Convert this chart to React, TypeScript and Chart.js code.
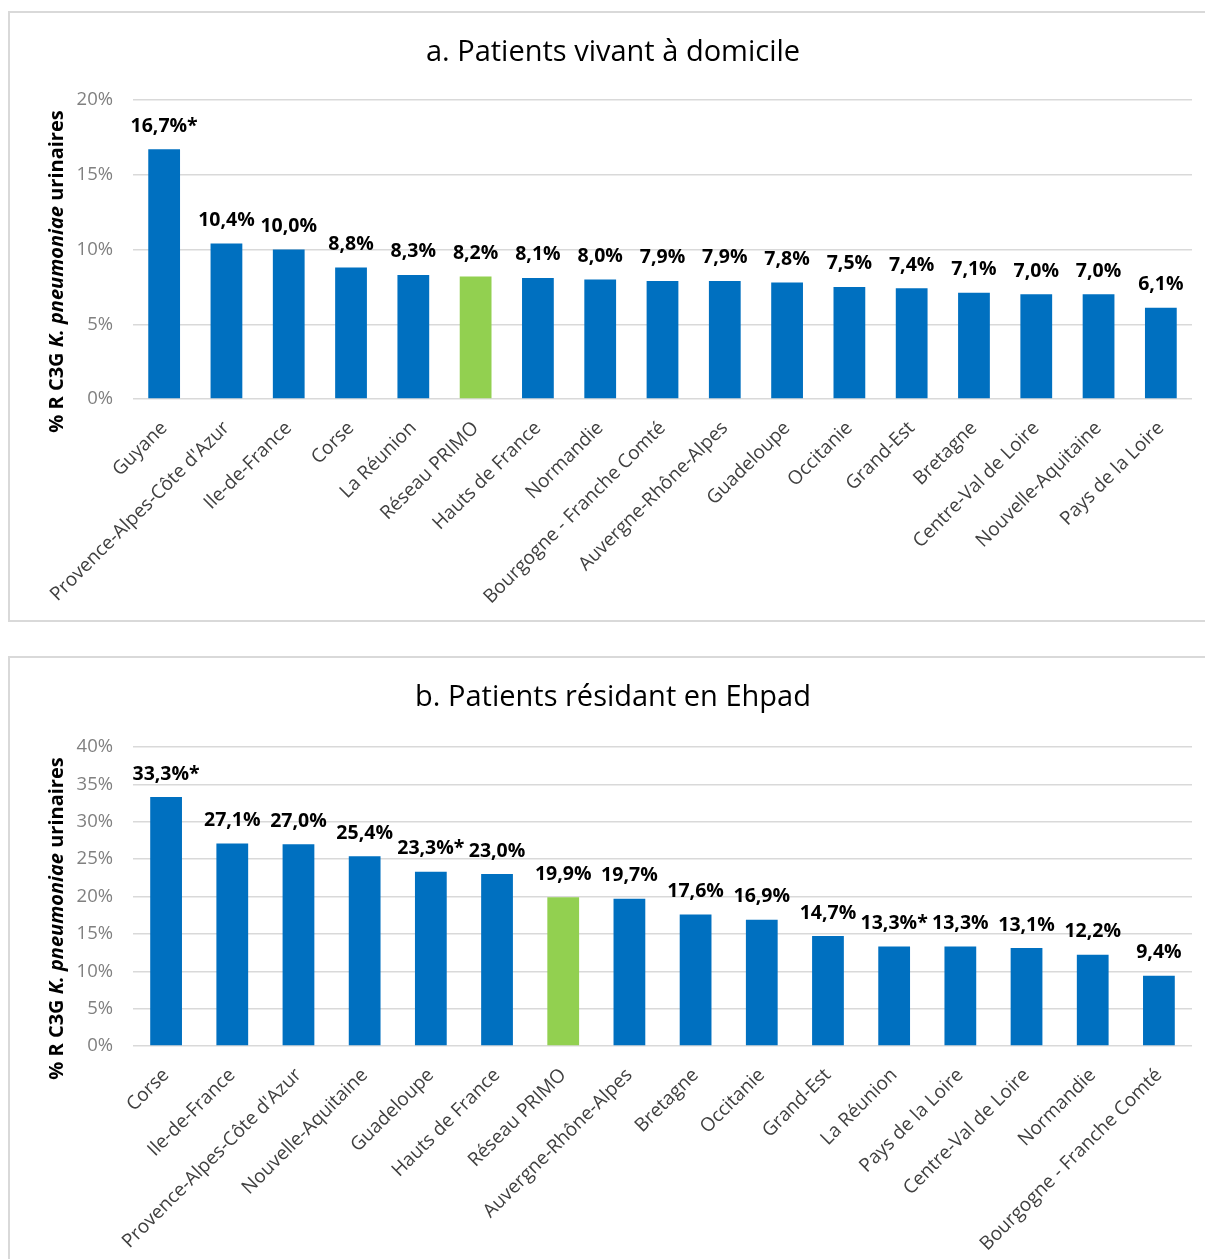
import { useEffect, useRef } from "react";
import { Chart, registerables } from "chart.js";

Chart.register(...registerables);

const FONT = "'Open Sans', 'Noto Sans', sans-serif";
const BLUE = "#0070C0";
const GREEN = "#92D050";
const GRID = "#d9d9d9";
const NETWORK = "Réseau PRIMO";

// a. Patients vivant à domicile
const domicileRegions = [
  "Guyane",
  "Provence-Alpes-Côte d'Azur",
  "Ile-de-France",
  "Corse",
  "La Réunion",
  "Réseau PRIMO",
  "Hauts de France",
  "Normandie",
  "Bourgogne - Franche Comté",
  "Auvergne-Rhône-Alpes",
  "Guadeloupe",
  "Occitanie",
  "Grand-Est",
  "Bretagne",
  "Centre-Val de Loire",
  "Nouvelle-Aquitaine",
  "Pays de la Loire",
];
const domicileValues = [16.7, 10.4, 10.0, 8.8, 8.3, 8.2, 8.1, 8.0, 7.9, 7.9, 7.8, 7.5, 7.4, 7.1, 7.0, 7.0, 6.1];
const domicileStarred = ["Guyane"];
const domicileAxisMax = 20;

// b. Patients résidant en Ehpad
const ehpadRegions = [
  "Corse",
  "Ile-de-France",
  "Provence-Alpes-Côte d'Azur",
  "Nouvelle-Aquitaine",
  "Guadeloupe",
  "Hauts de France",
  "Réseau PRIMO",
  "Auvergne-Rhône-Alpes",
  "Bretagne",
  "Occitanie",
  "Grand-Est",
  "La Réunion",
  "Pays de la Loire",
  "Centre-Val de Loire",
  "Normandie",
  "Bourgogne - Franche Comté",
];
const ehpadValues = [33.3, 27.1, 27.0, 25.4, 23.3, 23.0, 19.9, 19.7, 17.6, 16.9, 14.7, 13.3, 13.3, 13.1, 12.2, 9.4];
const ehpadStarred = ["Corse", "Guadeloupe", "La Réunion"];
const ehpadAxisMax = 40;

const tickStep = 5;
const axisTitleParts = [
  { text: "% R C3G ", italic: false },
  { text: "K. pneumoniae", italic: true },
  { text: " urinaires", italic: false },
];

const fmt = (v: number) => v.toFixed(1).replace(".", ",") + "%";

// Title, mixed-style y-axis title and value labels above the bars
const panelDecor = {
  id: "panelDecor",
  afterDraw(chart: any, _args: any, opts: any) {
    const { ctx, chartArea } = chart;
    ctx.save();
    ctx.fillStyle = "#000";
    ctx.textAlign = "center";
    ctx.textBaseline = "middle";
    ctx.font = `400 ${opts.titleSize}px ${FONT}`;
    ctx.fillText(opts.title, opts.titleX, opts.titleY);

    // value labels
    ctx.font = `700 19.5px ${FONT}`;
    const meta = chart.getDatasetMeta(0);
    meta.data.forEach((bar: any, i: number) => {
      ctx.fillText(opts.labels[i], bar.x, bar.y - 23);
    });

    // y-axis title
    ctx.save();
    ctx.translate(opts.axisX, (chartArea.top + chartArea.bottom) / 2 + opts.axisDy);
    ctx.rotate(-Math.PI / 2);
    ctx.textAlign = "left";
    const fonts = axisTitleParts.map(
      (p) => `${p.italic ? "italic " : ""}700 ${opts.axisSize}px ${FONT}`
    );
    let total = 0;
    const widths = axisTitleParts.map((p, i) => {
      ctx.font = fonts[i];
      const w = ctx.measureText(p.text).width;
      total += w;
      return w;
    });
    let x = -total / 2;
    axisTitleParts.forEach((p, i) => {
      ctx.font = fonts[i];
      ctx.fillText(p.text, x, 0);
      x += widths[i];
    });
    ctx.restore();
    ctx.restore();
  },
};

type PanelProps = {
  title: string;
  regions: string[];
  values: number[];
  starred: string[];
  axisMax: number;
  barPct: number;
  top: number;
  plotTop: number;
  height: number;
};

const BOX_W = 1200;

function Panel({ title, regions, values, starred, axisMax, barPct, top, plotTop, height }: PanelProps) {
  const ref = useRef<HTMLCanvasElement>(null);

  useEffect(() => {
    if (!ref.current) return;
    const plotBottom = plotTop + 299;
    const labels = values.map((v, i) => fmt(v) + (starred.includes(regions[i]) ? "*" : ""));
    const chart = new Chart(ref.current, {
      type: "bar",
      data: {
        labels: regions,
        datasets: [
          {
            data: values,
            backgroundColor: regions.map((r) => (r === NETWORK ? GREEN : BLUE)),
            barPercentage: barPct,
            categoryPercentage: 1,
          },
        ],
      },
      options: {
        responsive: false,
        animation: false,
        devicePixelRatio: 1,
        layout: { padding: { top: plotTop, right: 18, bottom: 0, left: 0 } },
        plugins: {
          legend: { display: false },
          tooltip: { enabled: false },
          title: { display: false },
          panelDecor: {
            title,
            titleX: 603,
            titleY: 40,
            titleSize: 29,
            labels,
            axisX: 47,
            axisDy: 22,
            axisSize: 20,
          },
        } as any,
        scales: {
          x: {
            afterFit: (s: any) => {
              s.height = height - plotBottom;
            },
            grid: { display: false, drawTicks: false },
            border: { display: false },
            ticks: {
              autoSkip: false,
              maxRotation: 45,
              minRotation: 45,
              padding: 18,
              color: "#404040",
              font: { family: FONT, size: 19 },
            },
          },
          y: {
            min: 0,
            max: axisMax,
            afterFit: (s: any) => {
              s.width = 123;
            },
            grid: { color: GRID, lineWidth: 1.5, drawTicks: false },
            border: { display: false },
            ticks: {
              stepSize: tickStep,
              padding: 20,
              color: "#808080",
              font: { family: FONT, size: 18.5 },
              callback: (v: any) => `${v}%`,
            },
          },
        },
      },
      plugins: [panelDecor],
    });
    return () => chart.destroy();
  }, [title, regions, values, starred, axisMax, barPct, top, plotTop, height]);

  return (
    <div
      style={{
        position: "absolute",
        left: 8,
        top,
        width: BOX_W,
        height,
        border: `2px solid ${GRID}`,
        background: "#fff",
      }}
    >
      <canvas ref={ref} width={BOX_W} height={height} style={{ display: "block" }} />
    </div>
  );
}

export default function App() {
  return (
    <div style={{ position: "absolute", left: 0, top: 0, width: 1205, height: 1259, overflow: "hidden", background: "#fff" }}>
      <Panel
        title="a. Patients vivant à domicile"
        regions={domicileRegions}
        values={domicileValues}
        starred={domicileStarred}
        axisMax={domicileAxisMax}
        barPct={0.51}
        top={11}
        plotTop={87}
        height={607}
      />
      <Panel
        title="b. Patients résidant en Ehpad"
        regions={ehpadRegions}
        values={ehpadValues}
        starred={ehpadStarred}
        axisMax={ehpadAxisMax}
        barPct={0.48}
        top={656}
        plotTop={89}
        height={607}
      />
    </div>
  );
}
